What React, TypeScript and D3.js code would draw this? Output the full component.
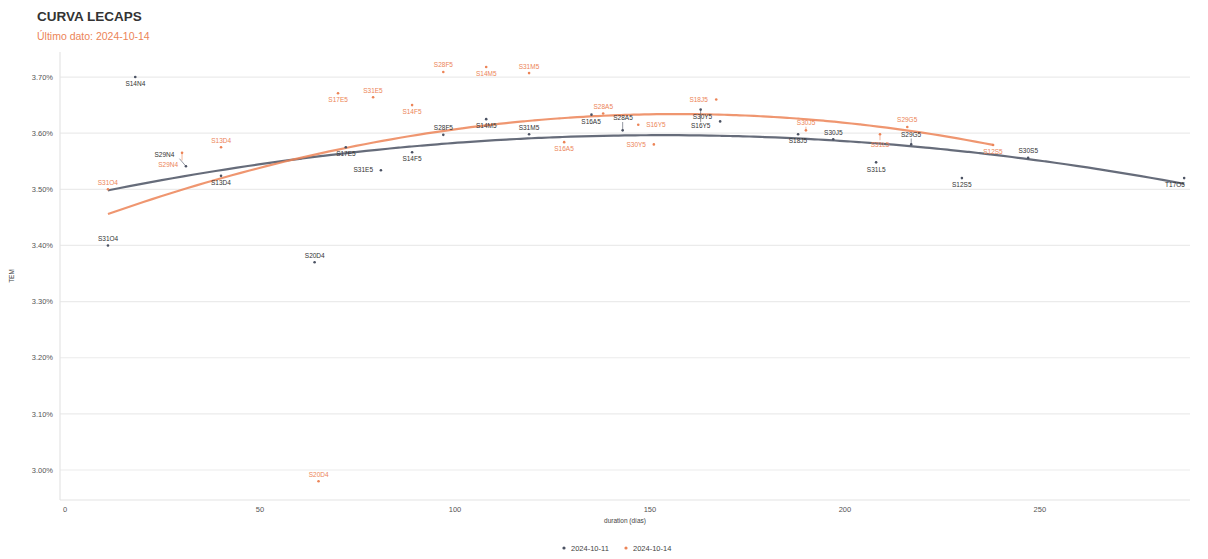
import { useEffect, useRef } from 'react';
import * as d3 from 'd3';

// ---- data (approximate) ----
const seriesNames = ['2024-10-11', '2024-10-14'];
const seriesColors = ['#4b5263', '#ec8457'];

const tickersOct11 = ['S31O4', 'S14N4', 'S29N4', 'S13D4', 'S20D4', 'S17E5', 'S31E5', 'S14F5', 'S28F5', 'S14M5', 'S31M5', 'S16A5', 'S28A5', 'S16Y5', 'S30Y5', 'S18J5', 'S30J5', 'S31L5', 'S29G5', 'S12S5', 'S30S5', 'T17O5'];
const durationOct11 = [11, 18, 31, 40, 64, 72, 81, 89, 97, 108, 119, 135, 143, 163, 168, 188, 197, 208, 217, 230, 247, 287];
const temOct11 = [3.40, 3.70, 3.541, 3.524, 3.37, 3.575, 3.534, 3.566, 3.597, 3.625, 3.598, 3.633, 3.605, 3.642, 3.621, 3.598, 3.589, 3.548, 3.580, 3.52, 3.556, 3.52];

const tickersOct14 = ['S31O4', 'S29N4', 'S13D4', 'S17E5', 'S31E5', 'S14F5', 'S28F5', 'S14M5', 'S31M5', 'S16A5', 'S28A5', 'S16Y5', 'S30Y5', 'S18J5', 'S30J5', 'S31L5', 'S29G5', 'S12S5', 'S20D4'];
const durationOct14 = [11, 30, 40, 70, 79, 89, 97, 108, 119, 128, 138, 147, 151, 167, 190, 209, 216, 238, 65];
const temOct14 = [3.50, 3.565, 3.575, 3.671, 3.664, 3.65, 3.709, 3.718, 3.707, 3.584, 3.635, 3.615, 3.58, 3.66, 3.605, 3.598, 3.611, 3.579, 2.98];

const yTicks = [3.0, 3.1, 3.2, 3.3, 3.4, 3.5, 3.6, 3.7];
const xTicks = [0, 50, 100, 150, 200, 250];

const W = 1208;
const H = 559;
const margin = { top: 52, right: 18, bottom: 59, left: 60 };

type Pt = { d: number; v: number; t: string; s: number };
type Lab = { x: number; y: number; px: number; py: number; w: number; h: number; t: string; s: number };

// least squares y = a + b x + c x^2 (like geom_smooth with poly 2)
function quadFit(xs: number[], ys: number[]) {
  const m = d3.mean(xs) as number;
  const A = [[0, 0, 0], [0, 0, 0], [0, 0, 0]];
  const B = [0, 0, 0];
  xs.forEach((x, i) => {
    const t = x - m;
    const row = [1, t, t * t];
    for (let r = 0; r < 3; r++) {
      B[r] += row[r] * ys[i];
      for (let c = 0; c < 3; c++) A[r][c] += row[r] * row[c];
    }
  });
  for (let i = 0; i < 3; i++) {
    for (let k = i + 1; k < 3; k++) {
      const f = A[k][i] / A[i][i];
      for (let c = i; c < 3; c++) A[k][c] -= f * A[i][c];
      B[k] -= f * B[i];
    }
  }
  const sol = [0, 0, 0];
  for (let i = 2; i >= 0; i--) {
    let s = B[i];
    for (let c = i + 1; c < 3; c++) s -= A[i][c] * sol[c];
    sol[i] = s / A[i][i];
  }
  return (x: number) => sol[0] + sol[1] * (x - m) + sol[2] * (x - m) * (x - m);
}

export default function App() {
  const svgRef = useRef<SVGSVGElement>(null);

  useEffect(() => {
    if (!svgRef.current) return;
    const svg = d3.select(svgRef.current);
    svg.selectAll('*').remove();

    const font = '"Liberation Sans", Arial, sans-serif';
    const x = d3.scaleLinear().domain([-1.3, 288.5]).range([margin.left, W - margin.right]);
    const y = d3.scaleLinear().domain([2.9466, 3.7446]).range([H - margin.bottom, margin.top]);

    const series = [
      { d: durationOct11, v: temOct11, t: tickersOct11 },
      { d: durationOct14, v: temOct14, t: tickersOct14 },
    ];

    // grid
    const g = svg.append('g');
    g.selectAll('line.hy')
      .data(yTicks)
      .join('line')
      .attr('x1', margin.left)
      .attr('x2', W - margin.right)
      .attr('y1', d => y(d))
      .attr('y2', d => y(d))
      .attr('stroke', '#ebebeb')
      .attr('stroke-width', 1.2);

    // axis lines
    g.append('line')
      .attr('x1', margin.left).attr('x2', margin.left)
      .attr('y1', margin.top).attr('y2', H - margin.bottom)
      .attr('stroke', '#e4e4e4').attr('stroke-width', 1.2);
    g.append('line')
      .attr('x1', margin.left).attr('x2', W - margin.right)
      .attr('y1', H - margin.bottom).attr('y2', H - margin.bottom)
      .attr('stroke', '#e4e4e4').attr('stroke-width', 1.2);

    // tick labels
    g.selectAll('text.yt')
      .data(yTicks)
      .join('text')
      .attr('x', margin.left - 7)
      .attr('y', d => y(d))
      .attr('dy', '0.35em')
      .attr('text-anchor', 'end')
      .attr('font-size', 7.5)
      .attr('font-family', font)
      .attr('fill', '#555')
      .text(d => d3.format('.2f')(d) + '%');

    g.selectAll('text.xt')
      .data(xTicks)
      .join('text')
      .attr('x', d => x(d))
      .attr('y', H - margin.bottom + 12)
      .attr('text-anchor', 'middle')
      .attr('font-size', 7.5)
      .attr('font-family', font)
      .attr('fill', '#555')
      .text(d => d);

    // axis titles
    svg.append('text')
      .attr('x', (margin.left + W - margin.right) / 2)
      .attr('y', H - margin.bottom + 23)
      .attr('text-anchor', 'middle')
      .attr('font-size', 6.5)
      .attr('font-family', font)
      .attr('fill', '#444')
      .text('duration (días)');
    svg.append('text')
      .attr('transform', `translate(14,${(margin.top + H - margin.bottom) / 2}) rotate(-90)`)
      .attr('text-anchor', 'middle')
      .attr('font-size', 6.5)
      .attr('font-family', font)
      .attr('fill', '#444')
      .text('TEM');

    // title
    svg.append('text')
      .attr('x', 37).attr('y', 21)
      .attr('font-size', 13.5).attr('font-weight', 'bold')
      .attr('font-family', font).attr('fill', '#333')
      .text('CURVA LECAPS');
    svg.append('text')
      .attr('x', 37).attr('y', 40)
      .attr('font-size', 10.5)
      .attr('font-family', font).attr('fill', seriesColors[1])
      .text('Último dato: 2024-10-14');

    // smooth lines
    const line = d3.line<number[]>().x(p => x(p[0])).y(p => y(p[1])).curve(d3.curveBasis);
    series.forEach((s, si) => {
      const f = quadFit(s.d, s.v);
      const [lo, hi] = d3.extent(s.d) as [number, number];
      const pts = d3.range(0, 101).map(i => {
        const xx = lo + (hi - lo) * i / 100;
        return [xx, f(xx)];
      });
      svg.append('path')
        .attr('d', line(pts))
        .attr('fill', 'none')
        .attr('stroke', seriesColors[si])
        .attr('stroke-width', 2.2)
        .attr('stroke-opacity', 0.85);
    });

    // points
    const allPts: Pt[] = [];
    series.forEach((s, si) => s.d.forEach((d, i) => allPts.push({ d, v: s.v[i], t: s.t[i], s: si })));
    svg.selectAll('circle.pt')
      .data(allPts)
      .join('circle')
      .attr('cx', p => x(p.d))
      .attr('cy', p => y(p.v))
      .attr('r', 1.3)
      .attr('fill', p => seriesColors[p.s]);

    // repel labels (ggrepel-ish)
    const labs: Lab[] = allPts.map((p, i) => {
      const px = x(p.d), py = y(p.v);
      const dir = i % 4;
      return {
        px, py, w: 30, h: 8, t: p.t, s: p.s,
        x: px + (dir < 2 ? 18 : -18),
        y: py + (dir % 2 === 0 ? -9 : 9),
      };
    });
    const pad = 2;
    for (let it = 0; it < 500; it++) {
      for (let i = 0; i < labs.length; i++) {
        const a = labs[i];
        for (let j = i + 1; j < labs.length; j++) {
          const b = labs[j];
          const ox = (a.w + b.w) / 2 + pad - Math.abs(a.x - b.x);
          const oy = (a.h + b.h) / 2 + pad - Math.abs(a.y - b.y);
          if (ox > 0 && oy > 0) {
            if (oy < ox) {
              const sgn = a.y < b.y || (a.y === b.y && i < j) ? -1 : 1;
              a.y += sgn * oy / 2; b.y -= sgn * oy / 2;
            } else {
              const sgn = a.x < b.x ? -1 : 1;
              a.x += sgn * ox / 2; b.x -= sgn * ox / 2;
            }
          }
        }
        for (const p of labs) {
          const ox = a.w / 2 + 3 - Math.abs(a.x - p.px);
          const oy = a.h / 2 + 3 - Math.abs(a.y - p.py);
          if (ox > 0 && oy > 0) {
            if (oy < ox) a.y += (a.y < p.py ? -1 : 1) * oy * 0.5;
            else a.x += (a.x < p.px ? -1 : 1) * ox * 0.5;
          }
        }
        a.x += (a.px - a.x) * 0.01;
        a.y += (a.py - a.y) * 0.01;
        a.x = Math.max(margin.left + a.w / 2, Math.min(W - margin.right - a.w / 2, a.x));
        a.y = Math.max(margin.top + a.h / 2, Math.min(H - margin.bottom - a.h / 2, a.y));
      }
    }

    // segments
    labs.forEach(l => {
      const ex = Math.max(l.x - l.w / 2, Math.min(l.x + l.w / 2, l.px));
      const ey = Math.max(l.y - l.h / 2, Math.min(l.y + l.h / 2, l.py));
      const dist = Math.hypot(ex - l.px, ey - l.py);
      if (dist > 3) {
        svg.append('line')
          .attr('x1', l.px).attr('y1', l.py)
          .attr('x2', ex).attr('y2', ey)
          .attr('stroke', seriesColors[l.s])
          .attr('stroke-width', 0.6);
      }
    });

    svg.selectAll('text.lab')
      .data(labs)
      .join('text')
      .attr('x', l => l.x)
      .attr('y', l => l.y)
      .attr('dy', '0.35em')
      .attr('text-anchor', 'middle')
      .attr('font-size', 6.5)
      .attr('font-family', font)
      .attr('fill', l => (l.s === 0 ? '#333' : seriesColors[1]))
      .text(l => l.t);

    // legend
    const legend = svg.append('g').attr('transform', `translate(${W / 2 + 20},${H - 11})`);
    const items = legend.selectAll('g')
      .data(seriesNames)
      .join('g')
      .attr('transform', (d, i) => `translate(${i * 62 - 60},0)`);
    items.append('circle').attr('cx', 0).attr('cy', 0).attr('r', 1.6).attr('fill', (d, i) => seriesColors[i]);
    items.append('text')
      .attr('x', 7).attr('dy', '0.35em')
      .attr('font-size', 7.5).attr('font-family', font).attr('fill', '#444')
      .text(d => d);
  }, []);

  return (
    <div>
      <style>{'body{margin:0}'}</style>
      <svg ref={svgRef} width={W} height={H} style={{ display: 'block', background: '#fff' }} />
    </div>
  );
}
